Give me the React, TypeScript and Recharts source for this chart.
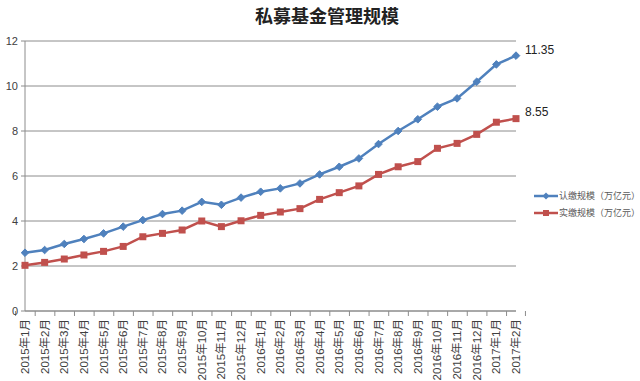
import { LineChart, Line, XAxis, YAxis, CartesianGrid, LabelList } from "recharts";

const title = "私募基金管理规模";

const months = [
  "2015年1月", "2015年2月", "2015年3月", "2015年4月", "2015年5月", "2015年6月",
  "2015年7月", "2015年8月", "2015年9月", "2015年10月", "2015年11月", "2015年12月",
  "2016年1月", "2016年2月", "2016年3月", "2016年4月", "2016年5月", "2016年6月",
  "2016年7月", "2016年8月", "2016年9月", "2016年10月", "2016年11月", "2016年12月",
  "2017年1月", "2017年2月",
];

// 认缴规模（万亿元）
const subscribed = [
  2.59, 2.71, 2.98, 3.2, 3.45, 3.75, 4.04, 4.31, 4.46, 4.85, 4.72, 5.04, 5.3,
  5.45, 5.67, 6.07, 6.41, 6.78, 7.42, 8.0, 8.52, 9.08, 9.45, 10.19, 10.96, 11.35,
];

// 实缴规模（万亿元）
const paidIn = [
  2.03, 2.16, 2.31, 2.49, 2.65, 2.87, 3.3, 3.45, 3.6, 4.0, 3.75, 4.01, 4.25,
  4.4, 4.55, 4.96, 5.26, 5.56, 6.07, 6.41, 6.64, 7.23, 7.45, 7.85, 8.39, 8.55,
];

const seriesNames = ["认缴规模（万亿元）", "实缴规模（万亿元）"];
const yTicks = [0, 2, 4, 6, 8, 10, 12];

const BLUE = "#4f81bd";
const RED = "#c0504d";
const GRID = "#8c8c8c";
const FONT = '"Liberation Sans", "Noto Sans CJK SC", sans-serif';

const data = months.map((m, i) => ({
  month: m,
  subscribed: subscribed[i],
  paidIn: paidIn[i],
}));

const PLOT_LEFT = 25;
const PLOT_RIGHT = 516;
const bandWidth = (PLOT_RIGHT - PLOT_LEFT) / months.length;

function Diamond(props: any) {
  const { cx, cy } = props;
  if (cx == null || cy == null) return null;
  const r = 3.8;
  return (
    <polygon
      points={`${cx},${cy - r} ${cx + r},${cy} ${cx},${cy + r} ${cx - r},${cy}`}
      fill={BLUE}
      stroke={BLUE}
    />
  );
}

function Square(props: any) {
  const { cx, cy } = props;
  if (cx == null || cy == null) return null;
  const s = 7;
  return <rect x={cx - s / 2} y={cy - s / 2} width={s} height={s} fill={RED} />;
}

function MonthTick(props: any) {
  const { x, y, payload, index } = props;
  const left = x - bandWidth / 2;
  return (
    <g>
      <line x1={left} y1={y} x2={left} y2={y + 5} stroke={GRID} />
      {index === months.length - 1 && (
        <line x1={x + bandWidth / 2} y1={y} x2={x + bandWidth / 2} y2={y + 5} stroke={GRID} />
      )}
      <text
        x={x}
        y={y + 8}
        transform={`rotate(-90 ${x} ${y + 8})`}
        textAnchor="end"
        dominantBaseline="central"
        fontSize={11.5}
        fontFamily={FONT}
        fill="#404040"
      >
        {payload.value}
      </text>
    </g>
  );
}

function lastLabel(dy: number) {
  return (props: any) => {
    const { x, y, value, index } = props;
    if (index !== months.length - 1) return null;
    return (
      <text x={x + 9} y={y + dy} fontSize={12} fontFamily={FONT} fill="#222" dominantBaseline="central">
        {value}
      </text>
    );
  };
}

function LegendItem({ color, name, square }: { color: string; name: string; square: boolean }) {
  return (
    <div style={{ display: "flex", alignItems: "center", height: 17 }}>
      <svg width={26} height={10}>
        <line x1={1} y1={5} x2={25} y2={5} stroke={color} strokeWidth={2.5} />
        {square ? (
          <rect x={10} y={2} width={6} height={6} fill={color} />
        ) : (
          <polygon points="13,1.5 16.5,5 13,8.5 9.5,5" fill={color} />
        )}
      </svg>
      <span style={{ fontSize: 9, fontFamily: FONT, color: "#595959", whiteSpace: "nowrap" }}>{name}</span>
    </div>
  );
}

export default function App() {
  return (
    <div style={{ position: "absolute", left: 0, top: 0, width: 640, height: 381, background: "#fff" }}>
      <div
        style={{
          position: "absolute",
          left: 0,
          top: 3,
          width: 654,
          textAlign: "center",
          fontSize: 18,
          fontWeight: 700,
          fontFamily: '"Noto Sans CJK SC", sans-serif',
          color: "#222",
          lineHeight: "24px",
        }}
      >
        {title}
      </div>
      <LineChart width={640} height={381} data={data} margin={{ top: 41, right: 124, left: 0, bottom: 0 }}>
        <CartesianGrid vertical={false} stroke={GRID} />
        <XAxis
          dataKey="month"
          interval={0}
          height={70}
          tickSize={0}
          tickMargin={0}
          tickLine={false}
          axisLine={{ stroke: GRID }}
          tick={<MonthTick />}
        />
        <YAxis
          width={25}
          domain={[0, 12]}
          ticks={yTicks}
          interval={0}
          tickSize={4}
          tickMargin={3}
          axisLine={{ stroke: GRID }}
          tickLine={{ stroke: GRID }}
          tick={{ fontSize: 11, fontFamily: FONT, fill: "#404040" }}
        />
        <Line
          type="linear"
          dataKey="subscribed"
          name={seriesNames[0]}
          stroke={BLUE}
          strokeWidth={2.5}
          dot={<Diamond />}
          activeDot={false}
          isAnimationActive={false}
        >
          <LabelList dataKey="subscribed" content={lastLabel(-6)} />
        </Line>
        <Line
          type="linear"
          dataKey="paidIn"
          name={seriesNames[1]}
          stroke={RED}
          strokeWidth={2.5}
          dot={<Square />}
          activeDot={false}
          isAnimationActive={false}
        >
          <LabelList dataKey="paidIn" content={lastLabel(-7)} />
        </Line>
      </LineChart>
      <div style={{ position: "absolute", left: 533, top: 187 }}>
        <LegendItem color={BLUE} name={seriesNames[0]} square={false} />
        <LegendItem color={RED} name={seriesNames[1]} square={true} />
      </div>
    </div>
  );
}
